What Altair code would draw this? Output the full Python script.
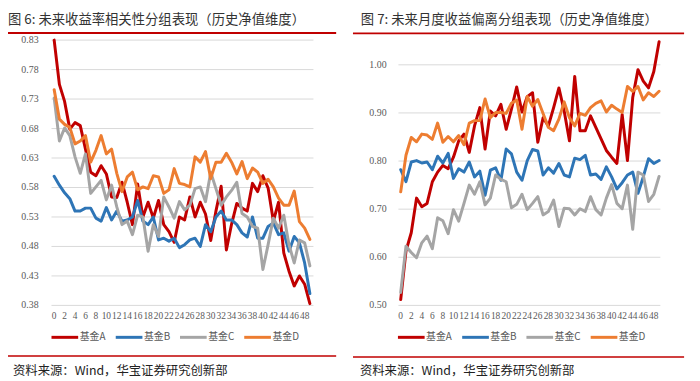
import altair as alt
import pandas as pd

x_idx = list(range(50))
funds = ["基金A", "基金B", "基金C", "基金D"]
colors = ["#C00000", "#2E75B6", "#A5A5A5", "#ED7D31"]

left_a = [0.830, 0.755, 0.726, 0.679, 0.690, 0.685, 0.645, 0.606, 0.600, 0.617,
          0.603, 0.564, 0.563, 0.589, 0.555, 0.517, 0.586, 0.530, 0.555, 0.528,
          0.558, 0.517, 0.505, 0.487, 0.530, 0.525, 0.564, 0.530, 0.555, 0.535,
          0.490, 0.540, 0.582, 0.474, 0.518, 0.553, 0.545, 0.540, 0.587, 0.573,
          0.600, 0.579, 0.523, 0.555, 0.469, 0.438, 0.413, 0.430, 0.416, 0.383]
left_b = [0.599, 0.584, 0.571, 0.561, 0.540, 0.540, 0.545, 0.545, 0.528, 0.523,
          0.546, 0.525, 0.540, 0.523, 0.525, 0.530, 0.558, 0.523, 0.517, 0.530,
          0.491, 0.494, 0.489, 0.494, 0.478, 0.483, 0.491, 0.494, 0.480, 0.517,
          0.505, 0.530, 0.540, 0.525, 0.525, 0.517, 0.503, 0.496, 0.530, 0.494,
          0.494, 0.514, 0.520, 0.500, 0.503, 0.472, 0.497, 0.486, 0.452, 0.400]
left_c = [0.732, 0.659, 0.681, 0.668, 0.632, 0.604, 0.637, 0.570, 0.581, 0.592,
          0.559, 0.584, 0.547, 0.517, 0.523, 0.500, 0.533, 0.530, 0.472, 0.517,
          0.497, 0.564, 0.547, 0.528, 0.556, 0.542, 0.550, 0.578, 0.581, 0.556,
          0.606, 0.578, 0.550, 0.564, 0.575, 0.589, 0.536, 0.530, 0.514, 0.511,
          0.441, 0.483, 0.528, 0.511, 0.533, 0.483, 0.452, 0.491, 0.486, 0.447]
left_d = [0.746, 0.696, 0.687, 0.682, 0.654, 0.659, 0.668, 0.623, 0.643, 0.668,
          0.637, 0.645, 0.604, 0.573, 0.598, 0.606, 0.576, 0.581, 0.578, 0.600,
          0.598, 0.570, 0.576, 0.612, 0.587, 0.585, 0.581, 0.632, 0.623, 0.641,
          0.595, 0.623, 0.623, 0.638, 0.623, 0.603, 0.624, 0.595, 0.613, 0.606,
          0.587, 0.594, 0.581, 0.562, 0.550, 0.550, 0.574, 0.522, 0.511, 0.492]

right_a = [0.512, 0.613, 0.651, 0.723, 0.705, 0.712, 0.757, 0.777, 0.791, 0.784,
           0.808, 0.842, 0.856, 0.818, 0.873, 0.911, 0.825, 0.904, 0.894, 0.918,
           0.866, 0.908, 0.954, 0.902, 0.934, 0.942, 0.839, 0.890, 0.873, 0.911,
           0.952, 0.904, 0.842, 0.976, 0.863, 0.863, 0.894, 0.870, 0.846, 0.822,
           0.808, 0.795, 0.897, 0.801, 0.932, 0.990, 0.966, 0.952, 0.986, 1.048]
right_b = [0.782, 0.757, 0.798, 0.801, 0.796, 0.798, 0.782, 0.810, 0.796, 0.816,
           0.764, 0.784, 0.777, 0.798, 0.767, 0.779, 0.729, 0.781, 0.786, 0.760,
           0.825, 0.815, 0.777, 0.760, 0.801, 0.824, 0.821, 0.771, 0.786, 0.775,
           0.795, 0.771, 0.767, 0.806, 0.803, 0.812, 0.771, 0.773, 0.762, 0.788,
           0.767, 0.742, 0.755, 0.771, 0.777, 0.733, 0.767, 0.805, 0.795, 0.801]
right_c = [0.527, 0.623, 0.610, 0.599, 0.630, 0.644, 0.618, 0.682, 0.676, 0.649,
           0.699, 0.675, 0.712, 0.750, 0.731, 0.757, 0.709, 0.723, 0.771, 0.762,
           0.757, 0.703, 0.710, 0.731, 0.699, 0.712, 0.726, 0.688, 0.695, 0.719,
           0.664, 0.702, 0.701, 0.688, 0.701, 0.695, 0.726, 0.699, 0.688, 0.723,
           0.751, 0.712, 0.701, 0.750, 0.658, 0.777, 0.771, 0.716, 0.731, 0.768]
right_d = [0.736, 0.812, 0.849, 0.840, 0.856, 0.854, 0.845, 0.879, 0.839, 0.851,
           0.840, 0.853, 0.834, 0.879, 0.884, 0.884, 0.929, 0.890, 0.901, 0.901,
           0.899, 0.920, 0.927, 0.866, 0.934, 0.914, 0.928, 0.899, 0.870, 0.863,
           0.887, 0.923, 0.890, 0.873, 0.899, 0.895, 0.911, 0.920, 0.925, 0.902,
           0.916, 0.908, 0.901, 0.955, 0.945, 0.955, 0.927, 0.942, 0.934, 0.945]

left_ticks = [0.38, 0.43, 0.48, 0.53, 0.58, 0.63, 0.68, 0.73, 0.78, 0.83]
right_ticks = [0.50, 0.60, 0.70, 0.80, 0.90, 1.00]
x_ticks = list(range(0, 50, 2))

left_title = "图 6:  未来收益率相关性分组表现（历史净值维度）"
right_title = "图 7:  未来月度收益偏离分组表现（历史净值维度）"
source_text = "资料来源：Wind，华宝证券研究创新部"

CJK = "Noto Sans CJK SC"
SERIF = "Liberation Serif"
LABEL_GRAY = "#595959"
color_scale = alt.Scale(domain=funds, range=colors)


def long_df(series):
    rows = []
    for name, vals in zip(funds, series):
        for i, v in zip(x_idx, vals):
            rows.append({"x": i, "value": v, "fund": name})
    return pd.DataFrame(rows)


def panel(series, ticks, ydom, yrange, xrange, grid_x, ylab_x, xlab_y):
    xs = alt.Scale(domain=[0, 49], range=xrange, nice=False, zero=False)
    ys = alt.Scale(domain=ydom, range=yrange, nice=False, zero=False)
    tick_df = pd.DataFrame({"v": ticks})
    xt_df = pd.DataFrame({"i": x_ticks})

    grid = alt.Chart(tick_df).mark_rule(color="#D9D9D9", strokeWidth=1).encode(
        y=alt.Y("v:Q", scale=ys, axis=None),
        x=alt.value(grid_x[0]), x2=alt.value(grid_x[1]),
    )
    ylab = alt.Chart(tick_df).mark_text(
        align="right", baseline="middle", font=SERIF, fontSize=10, color=LABEL_GRAY
    ).encode(
        y=alt.Y("v:Q", scale=ys, axis=None),
        x=alt.value(ylab_x),
        text=alt.Text("v:Q", format=".2f"),
    )
    xlab = alt.Chart(xt_df).mark_text(
        align="center", baseline="middle", font=SERIF, fontSize=9.5, color=LABEL_GRAY
    ).encode(
        x=alt.X("i:Q", scale=xs, axis=None),
        y=alt.value(xlab_y),
        text=alt.Text("i:Q"),
    )
    lines = alt.Chart(long_df(series)).mark_line(
        strokeWidth=3, strokeJoin="round", strokeCap="round"
    ).encode(
        x=alt.X("x:Q", scale=xs, axis=None),
        y=alt.Y("value:Q", scale=ys, axis=None),
        color=alt.Color("fund:N", scale=color_scale, legend=None),
        detail="fund:N",
    )
    return alt.layer(grid, ylab, xlab, lines)


def legend(first_center, y):
    lx = alt.Scale(domain=funds, range=[first_center, first_center + 195], padding=0)
    ldf = pd.DataFrame({"fund": funds})
    sym = alt.Chart(ldf).mark_point(
        shape="stroke", size=729, strokeWidth=3, filled=False, opacity=1
    ).encode(
        x=alt.X("fund:N", scale=lx, axis=None),
        y=alt.value(y),
        color=alt.Color("fund:N", scale=color_scale, legend=None),
    )
    lab = alt.Chart(ldf).mark_text(
        align="left", baseline="middle", dx=15, font=CJK, fontSize=10, color=LABEL_GRAY
    ).encode(
        x=alt.X("fund:N", scale=lx, axis=None),
        y=alt.value(y),
        text="fund:N",
    )
    return alt.layer(sym, lab)


left = panel([left_a, left_b, left_c, left_d], left_ticks, [0.38, 0.83],
             [298.7, 30.3], [46.7, 305.4], (44, 309), 31, 309)
right = panel([right_a, right_b, right_c, right_d], right_ticks, [0.50, 1.00],
              [298.7, 55.3], [397.3, 658.7], (395, 660), 383, 309)


def text_layer(txt, x, y, size, color):
    return alt.Chart(pd.DataFrame({"t": [txt]})).mark_text(
        align="left", baseline="middle", font=CJK, fontSize=size, color=color,
    ).encode(x=alt.value(x), y=alt.value(y), text="t:N")


def hrule(x1, x2, y, w):
    return alt.Chart(pd.DataFrame({"a": [0]})).mark_rule(color="#C00000", strokeWidth=w).encode(
        x=alt.value(x1), x2=alt.value(x2), y=alt.value(y)
    )


decor = [
    text_layer(left_title, 0, 10, 13.5, "#333333"),
    text_layer(right_title, 357, 10, 13.5, "#333333"),
    hrule(0, 332, 23, 2),
    hrule(349, 684, 23.5, 2),
    hrule(0, 332, 350, 1.5),
    hrule(349, 684, 351, 1.5),
    text_layer(source_text, 5, 365.5, 12.5, "#222222"),
    text_layer(source_text, 356, 365.5, 12.5, "#222222"),
]

chart = alt.layer(
    left, right, legend(57.5, 331), legend(408, 331), *decor
).resolve_scale(
    x="independent", y="independent", color="independent"
).properties(
    width=692, height=373,
    autosize=alt.AutoSizeParams(type="none"),
    padding=0,
    background="white",
).configure_view(stroke=None)

chart.save("out.html", embed_options={"renderer": "svg", "actions": False})
